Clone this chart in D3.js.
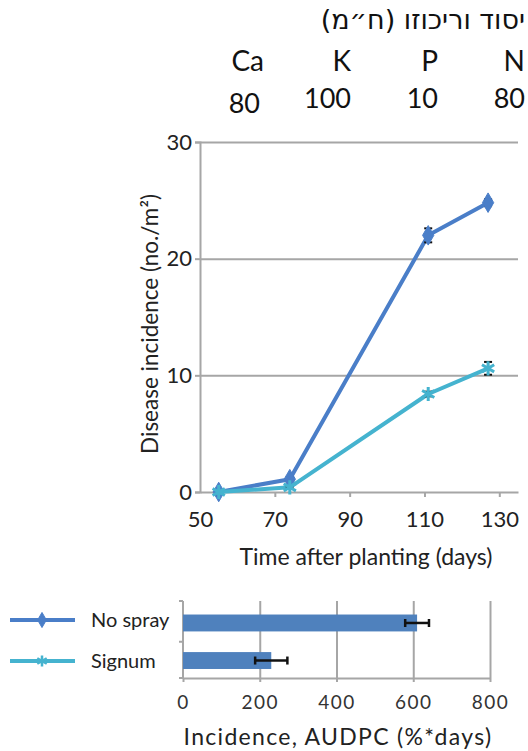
<!DOCTYPE html>
<html>
<head>
<meta charset="utf-8">
<script src="https://cdn.jsdelivr.net/npm/d3@7"></script>
<style>
  body { margin: 0; background: #fff; }
  svg { font-family: Lato, "Open Sans", "DejaVu Sans", sans-serif; }
</style>
</head>
<body>
<svg id="chart" width="528" height="751"></svg>
<script>
//Header table: element and concentration (ppm)
const headerTitle = "יסוד וריכוזו (ח״מ)";
const elements = ["Ca", "K", "P", "N"];
const concentrations = ["80", "100", "10", "80"];

//Line chart data, disease incidence per m2
const days = [55, 74, 111, 127];
const noSpray = [0, 1.1, 22, 24.8];
const noSprayErr = [0, 0.2, 0.6, 0.3];
const signum = [0, 0.4, 8.4, 10.6];
const signumErr = [0, 0.1, 0.2, 0.55];
const xTicks = [50, 70, 90, 110, 130];
const yTicks = [0, 10, 20, 30];

//Bar chart data, AUDPC
const treatments = ["No spray", "Signum"];
const audpc = [610, 230];
const audpcErr = [31, 42];
const audpcTicks = [0, 200, 400, 600, 800];

const blue = "#4a7ec8";
const cyan = "#45b3cf";
const grid = "#a6a6a6";

const svg = d3.select("#chart");

//Header
svg.append("text")
    .attr("x", 525)
    .attr("y", 29)
    .style("direction", "rtl")
    .attr("text-anchor", "start")
    .attr("font-size", 27)
    .attr("font-family", "'DejaVu Sans', sans-serif")
    .attr("fill", "#111")
    .text(headerTitle);

const hx = d3.scalePoint().domain(d3.range(elements.length)).range([264, 525]);

svg.append("g").selectAll("text")
    .data(elements)
    .enter()
    .append("text")
    .attr("x", (d, i) => hx(i))
    .attr("y", 71)
    .attr("text-anchor", "end")
    .attr("font-size", 28)
    .attr("fill", "#111")
    .text(d => d);

svg.append("g").selectAll("text")
    .data(concentrations)
    .enter()
    .append("text")
    .attr("x", (d, i) => hx(i) - (i === 0 ? 4 : 0))
    .attr("y", (d, i) => i === 0 ? 113 : 108)
    .attr("text-anchor", "end")
    .attr("font-size", 27)
    .attr("fill", "#111")
    .text(d => d);

//Line chart
const x = d3.scaleLinear().domain([50, 135]).range([200, 518]);
const y = d3.scaleLinear().domain([0, 30]).range([492, 142]);

//Horizontal gridlines
svg.append("g")
    .attr("transform", "translate(200,0)")
    .call(d3.axisRight(y).tickValues(yTicks.slice(1)).tickSize(318).tickFormat(""))
    .call(g => g.select(".domain").remove())
    .call(g => g.selectAll("line").attr("stroke", grid).attr("stroke-width", 2));

const yAxis = svg.append("g")
    .attr("transform", "translate(200,0)")
    .call(d3.axisLeft(y).tickValues(yTicks).tickSize(5).tickPadding(3));

const xAxis = svg.append("g")
    .attr("transform", "translate(0,492)")
    .call(d3.axisBottom(x).tickValues(xTicks).tickSize(5).tickPadding(14).tickSizeOuter(0));

[yAxis, xAxis].forEach(g => {
    g.select(".domain").attr("stroke", grid).attr("stroke-width", 2);
    g.selectAll(".tick line").attr("stroke", grid).attr("stroke-width", 2);
    g.selectAll(".tick text")
        .attr("font-size", 22)
        .attr("font-family", "Lato, sans-serif")
        .attr("fill", "#222");
});
xAxis.select(".tick line").remove();

svg.append("text")
    .attr("transform", "translate(158,324) rotate(-90)")
    .attr("text-anchor", "middle")
    .attr("font-size", 22.5)
    .attr("fill", "#222")
    .text("Disease incidence (no./m²)");

svg.append("text")
    .attr("x", 366)
    .attr("y", 565)
    .attr("text-anchor", "middle")
    .attr("font-size", 23)
    .attr("fill", "#222")
    .text("Time after planting (days)");

const series = [
    { values: noSpray, err: noSprayErr, color: blue, symbol: d3.symbolDiamond, size: 110, fill: true },
    { values: signum, err: signumErr, color: cyan, symbol: d3.symbolAsterisk, size: 140, fill: false }
];

const line = d3.line()
    .x((d, i) => x(days[i]))
    .y(d => y(d));

series.forEach(s => {
    svg.append("path")
        .datum(s.values)
        .attr("d", line)
        .attr("fill", "none")
        .attr("stroke", s.color)
        .attr("stroke-width", 4)
        .attr("stroke-linejoin", "round");

    //Error bars
    s.values.forEach((v, i) => {
        if (!s.err[i]) return;
        const g = svg.append("g").attr("stroke", "#111").attr("stroke-width", 2);
        const cx = x(days[i]);
        g.append("line").attr("x1", cx).attr("x2", cx).attr("y1", y(v - s.err[i])).attr("y2", y(v + s.err[i]));
        [v - s.err[i], v + s.err[i]].forEach(e => {
            g.append("line").attr("x1", cx - 4).attr("x2", cx + 4).attr("y1", y(e)).attr("y2", y(e));
        });
    });

    //Markers
    svg.append("g").selectAll("path")
        .data(s.values)
        .enter()
        .append("path")
        .attr("transform", (d, i) => `translate(${x(days[i])},${y(d)})`)
        .attr("d", d3.symbol(s.symbol, s.size))
        .attr("fill", s.fill ? s.color : "none")
        .attr("stroke", s.color)
        .attr("stroke-width", s.fill ? 1 : 3);
});

//Bar chart
const xb = d3.scaleLinear().domain([0, 800]).range([183, 490]);
const yb = d3.scaleBand().domain(treatments).range([601, 678])
    .paddingInner(0.55).paddingOuter(0.3).align(0.6);

svg.append("g")
    .attr("transform", "translate(0,678)")
    .call(d3.axisBottom(xb).tickValues(audpcTicks.slice(1)).tickSize(-77).tickFormat(""))
    .call(g => g.select(".domain").remove())
    .call(g => g.selectAll("line").attr("stroke", grid).attr("stroke-width", 2));

const xbAxis = svg.append("g")
    .attr("transform", "translate(0,678)")
    .call(d3.axisBottom(xb).tickValues(audpcTicks).tickSize(4).tickPadding(14).tickSizeOuter(0));

xbAxis.select(".domain").attr("stroke", grid).attr("stroke-width", 2);
xbAxis.selectAll(".tick line").attr("stroke", grid).attr("stroke-width", 2);
xbAxis.selectAll(".tick text")
    .attr("font-size", 19)
    .attr("letter-spacing", 1.5)
    .attr("font-family", "Lato, sans-serif")
    .attr("fill", "#333");

//Left axis with ticks at category edges
const edges = [601, (yb(treatments[0]) + yb.bandwidth() + yb(treatments[1])) / 2, 678];
svg.append("line")
    .attr("x1", 183).attr("x2", 183).attr("y1", 601).attr("y2", 678)
    .attr("stroke", grid).attr("stroke-width", 2);
svg.append("g").selectAll("line")
    .data(edges)
    .enter()
    .append("line")
    .attr("x1", 179).attr("x2", 183)
    .attr("y1", d => d).attr("y2", d => d)
    .attr("stroke", grid).attr("stroke-width", 2);

svg.append("g").selectAll("rect")
    .data(audpc)
    .enter()
    .append("rect")
    .attr("x", xb(0))
    .attr("y", (d, i) => yb(treatments[i]))
    .attr("width", d => xb(d) - xb(0))
    .attr("height", yb.bandwidth())
    .attr("fill", "#4f81bd");

audpc.forEach((v, i) => {
    const cy = yb(treatments[i]) + yb.bandwidth() / 2;
    const g = svg.append("g").attr("stroke", "#111").attr("stroke-width", 2.5);
    g.append("line").attr("x1", xb(v - audpcErr[i])).attr("x2", xb(v + audpcErr[i])).attr("y1", cy).attr("y2", cy);
    [v - audpcErr[i], v + audpcErr[i]].forEach(e => {
        g.append("line").attr("x1", xb(e)).attr("x2", xb(e)).attr("y1", cy - 4).attr("y2", cy + 4);
    });
});

svg.append("text")
    .attr("x", 338)
    .attr("y", 745)
    .attr("text-anchor", "middle")
    .attr("font-size", 23)
    .attr("letter-spacing", 1.3)
    .attr("fill", "#222")
    .text("Incidence, AUDPC (%*days)");

//Legend
const legendY = [620, 661];
series.forEach((s, i) => {
    const ly = legendY[i];
    svg.append("line")
        .attr("x1", 10).attr("x2", 75).attr("y1", ly).attr("y2", ly)
        .attr("stroke", s.color).attr("stroke-width", 4);
    svg.append("path")
        .attr("transform", `translate(42,${ly})`)
        .attr("d", d3.symbol(s.symbol, s.size * 0.6))
        .attr("fill", s.fill ? s.color : "none")
        .attr("stroke", s.color)
        .attr("stroke-width", s.fill ? 1 : 2.5);
    svg.append("text")
        .attr("x", 91)
        .attr("y", ly + 7)
        .attr("font-size", 20)
        .attr("fill", "#222")
        .text(treatments[i]);
});
</script>
</body>
</html>
